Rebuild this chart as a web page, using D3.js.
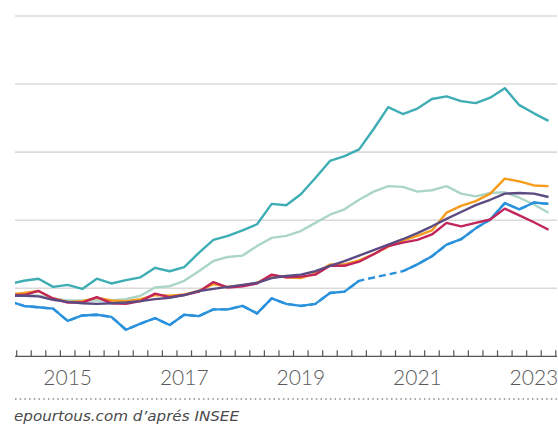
<!DOCTYPE html>
<html>
<head>
<meta charset="utf-8">
<script src="https://cdn.jsdelivr.net/npm/d3@7"></script>
<style>
  body { margin: 0; background: #fff; }
  svg { display: block; }
</style>
</head>
<body>
<div id="plot"></div>
<script>
// quarters (T = trimestre), 2014-T1 .. 2023-T2
const quarters = [
  "2014-T1", "2014-T2", "2014-T3", "2014-T4",
  "2015-T1", "2015-T2", "2015-T3", "2015-T4",
  "2016-T1", "2016-T2", "2016-T3", "2016-T4",
  "2017-T1", "2017-T2", "2017-T3", "2017-T4",
  "2018-T1", "2018-T2", "2018-T3", "2018-T4",
  "2019-T1", "2019-T2", "2019-T3", "2019-T4",
  "2020-T1", "2020-T2", "2020-T3", "2020-T4",
  "2021-T1", "2021-T2", "2021-T3", "2021-T4",
  "2022-T1", "2022-T2", "2022-T3", "2022-T4",
  "2023-T1", "2023-T2"
];

const yearLabels = ["2015-T1", "2017-T1", "2019-T1", "2021-T1", "2023-T1"];
const gridValues = [100, 110, 120, 130, 140];

const teal = [100.6, 101.1, 101.4, 100.2, 100.5, 99.9, 101.4, 100.7, 101.2, 101.6,
  103.0, 102.5, 103.1, 105.2, 107.1, 107.7, 108.5, 109.4, 112.4, 112.2,
  113.8, 116.2, 118.7, 119.4, 120.4, 123.4, 126.6, 125.6, 126.4, 127.8,
  128.2, 127.5, 127.2, 128.0, 129.4, 126.9, 125.7, 124.6];

const sage = [99.0, 99.0, 98.9, 98.5, 98.2, 98.2, 98.2, 98.2, 98.4, 98.9,
  100.1, 100.3, 101.1, 102.5, 104.0, 104.6, 104.8, 106.2, 107.4, 107.7,
  108.4, 109.6, 110.8, 111.6, 113.0, 114.2, 115.0, 114.9, 114.2, 114.4,
  115.0, 113.9, 113.5, 114.0, 114.1, 113.3, 112.3, 111.1];

const orange = [99.1, 99.3, 99.6, 98.5, 98.0, 98.1, 98.6, 98.2, 98.1, 98.4,
  99.0, 98.9, 99.1, 99.6, 100.6, 100.2, 100.4, 100.8, 101.9, 101.6,
  101.5, 102.2, 103.5, 103.5, 104.1, 105.0, 106.1, 107.0, 107.7, 108.5,
  111.1, 112.1, 112.8, 113.9, 116.1, 115.7, 115.1, 115.0];

const crimson = [99.0, 99.0, 99.6, 98.5, 97.9, 97.9, 98.7, 97.8, 97.7, 98.1,
  99.2, 98.7, 99.0, 99.5, 100.9, 100.1, 100.3, 100.7, 102.0, 101.6,
  101.7, 102.0, 103.3, 103.3, 103.9, 105.0, 106.2, 106.7, 107.1, 107.9,
  109.6, 109.1, 109.6, 110.1, 111.7, 110.7, 109.7, 108.6];

const purple = [98.9, 98.9, 98.8, 98.3, 98.0, 97.8, 97.7, 97.8, 97.9, 98.1,
  98.4, 98.6, 99.0, 99.6, 99.9, 100.2, 100.5, 100.8, 101.5, 101.8,
  102.0, 102.5, 103.3, 104.0, 104.8, 105.6, 106.4, 107.2, 108.1, 109.1,
  110.2, 111.2, 112.2, 113.0, 113.9, 114.0, 113.9, 113.4];

// 2020-T2 and 2020-T3 missing (dashed link)
const blue = [98.1, 97.4, 97.2, 97.0, 95.2, 96.0, 96.1, 95.8, 93.9, 94.8,
  95.6, 94.6, 96.1, 95.9, 96.9, 96.9, 97.4, 96.3, 98.5, 97.7,
  97.4, 97.7, 99.3, 99.5, 101.1, null, null, 102.5, 103.5, 104.7,
  106.4, 107.2, 108.8, 110.1, 112.5, 111.6, 112.6, 112.4];

const series = [
  { name: "sage", values: sage, color: "#abd6c6" },
  { name: "teal", values: teal, color: "#3eadb4" },
  { name: "blue", values: blue, color: "#2a92dd" },
  { name: "orange", values: orange, color: "#f59c1c" },
  { name: "crimson", values: crimson, color: "#c2245c" },
  { name: "purple", values: purple, color: "#5c4b82" }
];

const width = 558, height = 426;
const left = 15, right = 557;

const svg = d3.select("#plot").append("svg")
  .attr("width", width)
  .attr("height", height);

const x = d3.scaleBand()
  .domain(quarters)
  .range([2.1, 555.8])
  .padding(0);

const y = d3.scaleLinear()
  .domain([90, 140])
  .range([356.3, 16]);

const cx = q => x(q) + x.bandwidth() / 2;

// grid
svg.append("g")
  .selectAll("line")
  .data(gridValues)
  .join("line")
  .attr("x1", left)
  .attr("x2", right)
  .attr("y1", d => y(d))
  .attr("y2", d => y(d))
  .attr("stroke", "#dadada")
  .attr("stroke-width", 1.6);

svg.append("clipPath").attr("id", "clip")
  .append("rect")
  .attr("x", left).attr("y", 0)
  .attr("width", width - left).attr("height", height);

const plot = svg.append("g").attr("clip-path", "url(#clip)");

const line = d3.line()
  .defined(d => d.v != null)
  .x(d => cx(d.q))
  .y(d => y(d.v));

series.forEach(s => {
  const pts = quarters.map((q, i) => ({ q: q, v: s.values[i] }));
  if (s.values.some(v => v == null)) {
    plot.append("path")
      .datum(pts.filter(d => d.v != null))
      .attr("d", line)
      .attr("fill", "none")
      .attr("stroke", s.color)
      .attr("stroke-width", 2.4)
      .attr("stroke-dasharray", "7,4");
  }
  plot.append("path")
    .datum(pts)
    .attr("d", line)
    .attr("fill", "none")
    .attr("stroke", s.color)
    .attr("stroke-width", 2.4)
    .attr("stroke-linejoin", "round");
});

// x axis: baseline + quarter ticks at band edges
const axisY = y(90);
svg.append("line")
  .attr("x1", left).attr("x2", right)
  .attr("y1", axisY).attr("y2", axisY)
  .attr("stroke", "#555").attr("stroke-width", 1.3);

const edges = quarters.slice(1).map(q => x(q)).concat([x.range()[1]]);
svg.append("g")
  .selectAll("line")
  .data(edges)
  .join("line")
  .attr("x1", d => d).attr("x2", d => d)
  .attr("y1", axisY).attr("y2", axisY - 6)
  .attr("stroke", "#555").attr("stroke-width", 1.2);

svg.append("g")
  .attr("transform", `translate(0,${axisY})`)
  .call(d3.axisBottom(x).tickValues(yearLabels).tickSize(0).tickPadding(0).tickFormat(d => d.slice(0, 4)))
  .call(g => g.select(".domain").remove())
  .selectAll("text")
  .attr("y", 29)
  .attr("dy", 0)
  .attr("font-family", "Lato, 'Open Sans', sans-serif")
  .attr("font-weight", 300)
  .attr("font-size", 21)
  .attr("fill", "#5a5a5a");

// source
svg.append("line")
  .attr("x1", left).attr("x2", width)
  .attr("y1", 399).attr("y2", 399)
  .attr("stroke", "#8a8a8a")
  .attr("stroke-width", 1.5)
  .attr("stroke-dasharray", "1.5,3.2");

svg.append("text")
  .attr("x", 14)
  .attr("y", 421)
  .attr("font-family", "'DejaVu Sans', sans-serif")
  .attr("font-style", "italic")
  .attr("font-size", 14.5)
  .attr("textLength", 225)
  .attr("lengthAdjust", "spacingAndGlyphs")
  .attr("fill", "#4a4a4a")
  .text("epourtous.com d’aprés INSEE");
</script>
</body>
</html>
